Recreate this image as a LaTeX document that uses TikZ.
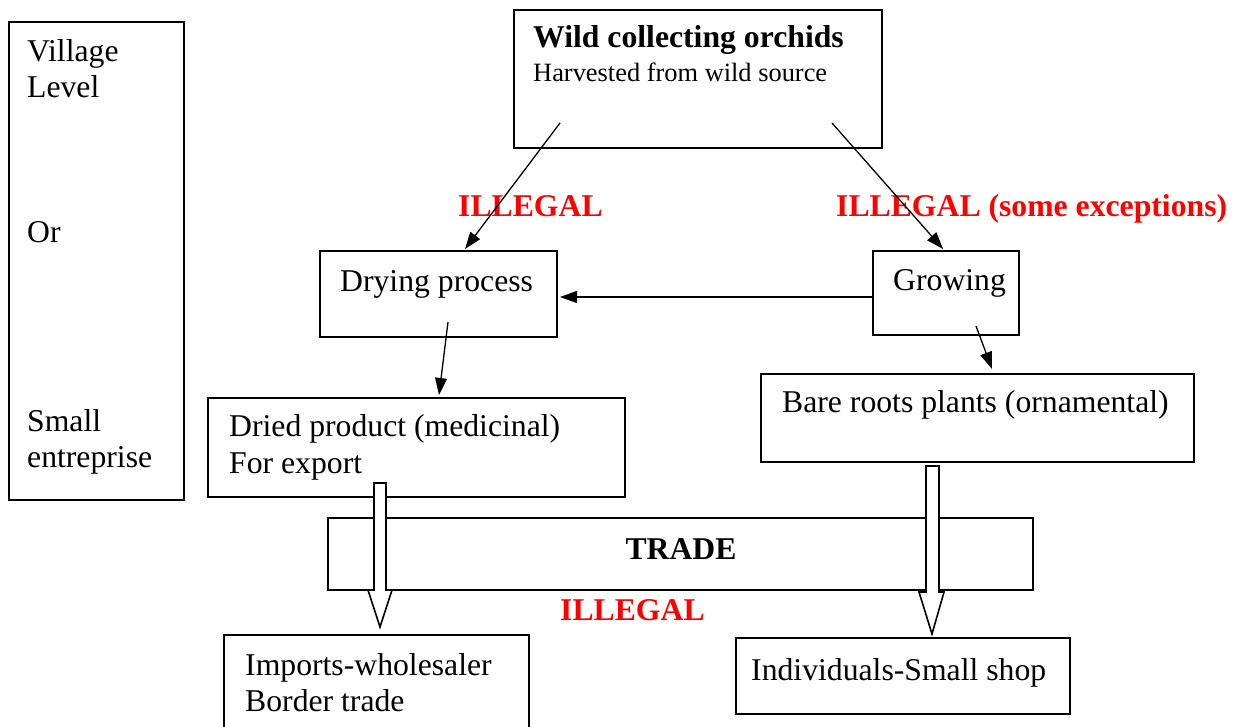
\documentclass[tikz,border=0pt]{standalone}
\usepackage{fontspec}
\setmainfont{Liberation Serif}
\usetikzlibrary{arrows.meta}
\begin{document}
\begin{tikzpicture}[x=1pt,y=-1pt,
  box/.style={draw, line width=1.8pt, inner sep=0pt, anchor=north west},
  txt/.style={inner sep=0pt, anchor=base west, font=\fontsize{31.7}{37}\selectfont},
  subtxt/.style={inner sep=0pt, anchor=base west, font=\fontsize{26.4}{31}\selectfont},
  boldtxt/.style={inner sep=0pt, anchor=base west, font=\fontsize{31.7}{37}\selectfont\bfseries},
  redtxt/.style={inner sep=0pt, anchor=base west, text=red, font=\fontsize{31.7}{37}\selectfont\bfseries},
  arr/.style={-{Triangle[length=17pt,width=12pt]}, line width=1.3pt},
  hollow/.style={draw, fill=white, line width=1.6pt, line join=miter}]
\useasboundingbox (0,0) rectangle (1237,727);

% boxes
\node[box, minimum width=175pt, minimum height=478pt] (lvl) at (8,21) {};
\node[box, minimum width=368pt, minimum height=138pt] (wild) at (513,9) {};
\node[box, minimum width=237pt, minimum height=86pt] (dry) at (319,250) {};
\node[box, minimum width=146pt, minimum height=84pt] (grow) at (872,250) {};
\node[box, minimum width=417pt, minimum height=99pt] (dried) at (207,397) {};
\node[box, minimum width=433pt, minimum height=88pt] (bare) at (760,373) {};
\node[box, minimum width=705pt, minimum height=72pt] (trade) at (327,517) {};
\node[box, minimum width=305pt, minimum height=130pt] (imp) at (223,634) {};
\node[box, minimum width=334pt, minimum height=76pt] (ind) at (735,637) {};

% left column texts
\node[txt] (t-village) at (27,62) {Village};
\node[txt] (t-level) at (27,98) {Level};
\node[txt] (t-or) at (27,243) {Or};
\node[txt] (t-small) at (27,431) {Small};
\node[txt] (t-entre) at (27,467) {entreprise};

% box texts
\node[boldtxt] (t-wild) at (533,48) {Wild collecting orchids};
\node[subtxt] (t-harv) at (533,82) {Harvested from wild source};
\node[txt] (t-dry) at (340,292) {Drying process};
\node[txt] (t-grow) at (893,291) {Growing};
\node[txt] (t-dried1) at (229,436) {Dried product (medicinal)};
\node[txt] (t-dried2) at (229,473) {For export};
\node[txt] (t-bare) at (782,412) {Bare roots plants (ornamental)};
\node[boldtxt, anchor=base] (t-trade) at (681,559) {TRADE};
\node[txt] (t-imp1) at (245,675) {Imports-wholesaler};
\node[txt] (t-imp2) at (245,711) {Border trade};
\node[txt] (t-ind) at (751,680) {Individuals-Small shop};

% red labels
\node[redtxt] (r1) at (458,217) {ILLEGAL};
\node[redtxt] (r2) at (836,217) {ILLEGAL (some exceptions)};
\node[redtxt] (r3) at (560,620) {ILLEGAL};

% arrow anchor points
\coordinate (a1s) at (560,123);
\coordinate (a1e) at (465,249);
\coordinate (a2s) at (832,123);
\coordinate (a2e) at (943,249);
\coordinate (a3s) at (872,297);
\coordinate (a3e) at (560,297);
\coordinate (a4s) at (448,322);
\coordinate (a4e) at (439,395);
\coordinate (a5s) at (976,326);
\coordinate (a5e) at (992,369);

\draw[arr] (a1s) -- (a1e);
\draw[arr] (a2s) -- (a2e);
\draw[arr] (a3s) -- (a3e);
\draw[arr] (a4s) -- (a4e);
\draw[arr] (a5s) -- (a5e);

% hollow block arrows
\draw[hollow] (374,483) -- (386,483) -- (386,590) -- (392,590) -- (380,627)
  -- (368,590) -- (374,590) -- cycle;
\draw[hollow] (926,466) -- (939,466) -- (939,592) -- (944,592) -- (932,634)
  -- (919,592) -- (926,592) -- cycle;
\end{tikzpicture}
\end{document}
